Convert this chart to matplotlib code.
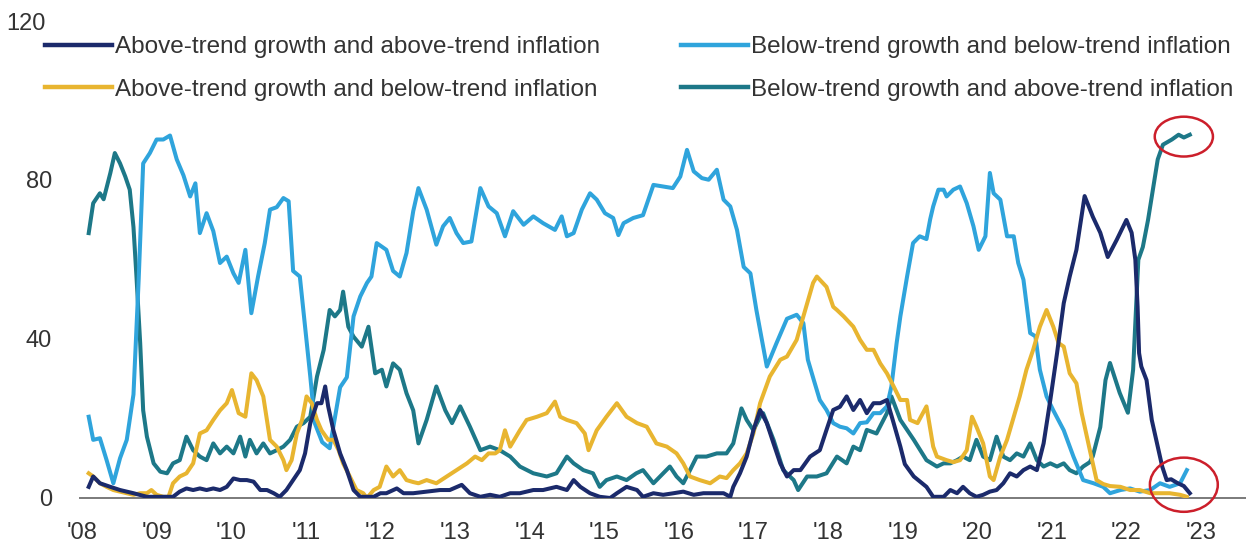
import matplotlib
matplotlib.use("Agg")
import matplotlib.pyplot as plt
from matplotlib.patches import Ellipse

# ---------------- data ----------------
series_labels = [
    "Above-trend growth and above-trend inflation",
    "Above-trend growth and below-trend inflation",
    "Below-trend growth and below-trend inflation",
    "Below-trend growth and above-trend inflation",
]
year_ticks = list(range(2008, 2024))
year_tick_labels = ["'%02d" % (y % 100) for y in year_ticks]
value_ticks = [0, 40, 80]

# Below-trend growth & below-trend inflation (light blue)
bb_x = [2008.09, 2008.15, 2008.24, 2008.33, 2008.42, 2008.51, 2008.60, 2008.69, 2008.76, 2008.82,
        2008.91, 2009.00, 2009.09, 2009.18, 2009.27, 2009.36, 2009.45, 2009.52, 2009.58, 2009.67,
        2009.76, 2009.85, 2009.94, 2010.03, 2010.10, 2010.19, 2010.27, 2010.36, 2010.45, 2010.52,
        2010.61, 2010.70, 2010.77, 2010.83, 2010.92, 2010.99, 2011.06, 2011.12, 2011.22, 2011.32,
        2011.46, 2011.55, 2011.64, 2011.73, 2011.82, 2011.88, 2011.95, 2012.08, 2012.17, 2012.26,
        2012.35, 2012.44, 2012.51, 2012.62, 2012.75, 2012.84, 2012.93, 2013.02, 2013.11, 2013.22,
        2013.34, 2013.45, 2013.56, 2013.67, 2013.78, 2013.92, 2014.05, 2014.18, 2014.34, 2014.43,
        2014.50, 2014.59, 2014.70, 2014.81, 2014.90, 2015.01, 2015.12, 2015.19, 2015.26, 2015.39,
        2015.52, 2015.66, 2015.79, 2015.92, 2016.02, 2016.11, 2016.20, 2016.31, 2016.40, 2016.51,
        2016.60, 2016.69, 2016.78, 2016.87, 2016.96, 2017.04, 2017.18, 2017.31, 2017.45, 2017.58,
        2017.67, 2017.73, 2017.81, 2017.89, 2017.98, 2018.07, 2018.16, 2018.25, 2018.34, 2018.43,
        2018.52, 2018.61, 2018.70, 2018.79, 2018.85, 2018.92, 2018.97, 2019.06, 2019.14, 2019.23,
        2019.32, 2019.37, 2019.41, 2019.48, 2019.55, 2019.59, 2019.68, 2019.77, 2019.86, 2019.95,
        2020.02, 2020.11, 2020.17, 2020.22, 2020.31, 2020.40, 2020.49, 2020.55, 2020.62, 2020.71,
        2020.78, 2020.84, 2020.93, 2021.02, 2021.16, 2021.29, 2021.42, 2021.56, 2021.69, 2021.78,
        2021.92, 2022.05, 2022.18, 2022.32, 2022.45, 2022.58, 2022.72, 2022.81]
bb_y = [20.4, 14.6, 15.0, 9.5, 3.7, 10.0, 14.6, 26.0, 55.0, 84.0,
        86.6, 90.0, 90.0, 91.0, 85.0, 81.0, 75.7, 79.0, 66.5, 71.5,
        67.0, 59.0, 60.6, 56.4, 54.0, 62.3, 46.4, 55.6, 64.0, 72.4,
        73.0, 75.3, 74.5, 57.0, 55.6, 43.0, 30.5, 18.8, 14.0, 12.5,
        27.8, 30.3, 45.6, 50.6, 54.0, 55.6, 64.0, 62.3, 57.0, 55.6,
        61.5, 72.0, 77.8, 72.4, 63.6, 68.2, 70.3, 66.5, 64.0, 64.4,
        77.8, 73.2, 71.5, 65.7, 72.0, 68.6, 70.7, 69.0, 67.3, 70.7,
        65.7, 66.5, 72.4, 76.5, 74.9, 71.5, 70.3, 66.0, 69.0, 70.3,
        71.0, 78.6, 78.2, 77.8, 80.7, 87.4, 82.0, 80.3, 79.9, 82.4,
        74.9, 73.2, 67.3, 58.0, 56.4, 47.2, 33.0, 38.9, 45.0, 46.0,
        43.9, 34.7, 29.6, 24.6, 22.1, 18.8, 17.9, 17.5, 16.2, 18.8,
        19.0, 21.3, 21.3, 23.0, 28.0, 38.9, 45.6, 55.6, 64.0, 65.7,
        65.0, 70.0, 73.2, 77.4, 77.4, 75.7, 77.4, 78.2, 74.0, 68.2,
        62.3, 65.7, 81.6, 76.5, 74.9, 65.7, 65.7, 59.0, 54.8, 41.4,
        40.6, 32.2, 25.5, 22.0, 17.0, 10.4, 4.5, 3.7, 2.8, 1.2,
        2.0, 2.4, 1.6, 2.0, 3.7, 2.8, 3.7, 7.0]

# Below-trend growth & above-trend inflation (teal)
ba_x = [2008.09, 2008.15, 2008.24, 2008.29, 2008.38, 2008.44, 2008.51, 2008.58, 2008.64, 2008.69,
        2008.73, 2008.78, 2008.82, 2008.87, 2008.96, 2009.05, 2009.14, 2009.22, 2009.31, 2009.40,
        2009.49, 2009.58, 2009.67, 2009.76, 2009.85, 2009.94, 2010.03, 2010.12, 2010.19, 2010.25,
        2010.34, 2010.43, 2010.52, 2010.61, 2010.70, 2010.79, 2010.88, 2010.97, 2011.06, 2011.15,
        2011.24, 2011.32, 2011.39, 2011.46, 2011.50, 2011.57, 2011.64, 2011.75, 2011.84, 2011.93,
        2012.02, 2012.08, 2012.17, 2012.26, 2012.35, 2012.44, 2012.51, 2012.62, 2012.75, 2012.87,
        2012.96, 2013.07, 2013.20, 2013.34, 2013.47, 2013.60, 2013.74, 2013.87, 2014.05, 2014.23,
        2014.36, 2014.50, 2014.59, 2014.72, 2014.85, 2014.94, 2015.03, 2015.17, 2015.30, 2015.43,
        2015.52, 2015.66, 2015.79, 2015.88, 2015.97, 2016.06, 2016.15, 2016.24, 2016.37, 2016.51,
        2016.64, 2016.73, 2016.84, 2016.91, 2017.00, 2017.09, 2017.13, 2017.27, 2017.40, 2017.54,
        2017.60, 2017.72, 2017.85, 2017.98, 2018.12, 2018.25, 2018.34, 2018.43, 2018.52, 2018.65,
        2018.79, 2018.85, 2018.97, 2019.15, 2019.32, 2019.46, 2019.55, 2019.64, 2019.73, 2019.81,
        2019.90, 2019.99, 2020.08, 2020.17, 2020.26, 2020.35, 2020.44, 2020.53, 2020.62, 2020.71,
        2020.80, 2020.89, 2020.98, 2021.07, 2021.16, 2021.24, 2021.33, 2021.42, 2021.51, 2021.55,
        2021.65, 2021.72, 2021.78, 2021.91, 2022.02, 2022.09, 2022.16, 2022.22, 2022.29, 2022.36,
        2022.42, 2022.49, 2022.61, 2022.70, 2022.77, 2022.85]
ba_y = [66.5, 74.0, 76.5, 75.0, 81.6, 86.6, 84.0, 80.7, 77.4, 68.0,
        55.6, 38.9, 22.0, 15.4, 8.7, 6.6, 6.2, 8.7, 9.5, 15.4,
        12.0, 10.4, 9.5, 13.7, 11.2, 12.9, 11.2, 15.4, 10.4, 14.6,
        11.2, 13.7, 11.2, 12.0, 12.9, 14.6, 17.9, 18.8, 20.4, 30.5,
        37.2, 47.2, 45.6, 47.2, 51.8, 43.0, 40.5, 38.0, 43.0, 31.3,
        32.2, 28.0, 33.8, 32.2, 26.3, 22.0, 13.7, 19.6, 28.0, 22.0,
        18.8, 23.0, 17.9, 12.0, 12.9, 12.0, 10.4, 7.9, 6.2, 5.4,
        6.2, 10.4, 8.7, 7.0, 6.2, 2.8, 4.5, 5.4, 4.5, 6.2,
        7.0, 3.7, 6.2, 7.9, 5.4, 3.7, 7.0, 10.4, 10.4, 11.2,
        11.2, 13.7, 22.5, 19.6, 17.0, 20.4, 21.3, 14.6, 7.0, 4.5,
        2.0, 5.4, 5.4, 6.2, 10.4, 8.7, 12.9, 12.0, 17.1, 16.2,
        21.3, 25.5, 19.6, 14.6, 9.5, 7.9, 8.7, 8.7, 9.5, 10.4,
        9.5, 14.6, 10.4, 9.5, 15.4, 10.4, 9.5, 11.2, 10.4, 13.7,
        9.5, 7.9, 8.7, 7.9, 8.7, 7.0, 6.2, 7.9, 9.0, 10.5,
        17.8, 29.6, 33.9, 26.4, 21.4, 32.2, 59.8, 63.0, 69.8, 78.0,
        85.0, 88.7, 90.0, 91.2, 90.5, 91.2]

# Above-trend growth & below-trend inflation (gold)
ab_x = [2008.09, 2008.15, 2008.24, 2008.33, 2008.42, 2008.51, 2008.60, 2008.69, 2008.78, 2008.87,
        2008.93, 2009.00, 2009.09, 2009.16, 2009.22, 2009.31, 2009.40, 2009.49, 2009.58, 2009.67,
        2009.76, 2009.85, 2009.94, 2010.01, 2010.10, 2010.19, 2010.27, 2010.34, 2010.43, 2010.52,
        2010.61, 2010.70, 2010.74, 2010.81, 2010.88, 2010.95, 2011.01, 2011.08, 2011.15, 2011.21,
        2011.30, 2011.37, 2011.44, 2011.50, 2011.59, 2011.68, 2011.77, 2011.82, 2011.91, 2011.99,
        2012.08, 2012.17, 2012.26, 2012.35, 2012.44, 2012.51, 2012.62, 2012.75, 2012.89, 2013.02,
        2013.16, 2013.27, 2013.36, 2013.45, 2013.54, 2013.60, 2013.67, 2013.74, 2013.87, 2013.96,
        2014.10, 2014.23, 2014.34, 2014.41, 2014.50, 2014.63, 2014.74, 2014.79, 2014.90, 2015.03,
        2015.17, 2015.30, 2015.44, 2015.57, 2015.70, 2015.84, 2015.97, 2016.06, 2016.15, 2016.28,
        2016.42, 2016.55, 2016.64, 2016.73, 2016.82, 2016.91, 2017.00, 2017.09, 2017.22, 2017.36,
        2017.45, 2017.58, 2017.67, 2017.80, 2017.85, 2017.89, 2017.98, 2018.07, 2018.12, 2018.21,
        2018.34, 2018.43, 2018.52, 2018.61, 2018.70, 2018.79, 2018.88, 2018.97, 2019.06, 2019.10,
        2019.20, 2019.32, 2019.41, 2019.46, 2019.59, 2019.68, 2019.77, 2019.86, 2019.93, 2019.99,
        2020.08, 2020.17, 2020.22, 2020.31, 2020.40, 2020.49, 2020.57, 2020.66, 2020.75, 2020.84,
        2020.93, 2021.02, 2021.09, 2021.16, 2021.24, 2021.33, 2021.40, 2021.51, 2021.60, 2021.69,
        2021.78, 2021.92, 2022.05, 2022.18, 2022.32, 2022.45, 2022.58, 2022.72, 2022.81]
ab_y = [6.2, 5.4, 3.7, 2.8, 2.0, 1.6, 1.2, 0.8, 1.2, 1.2,
        2.0, 0.8, 0.3, 0.3, 3.7, 5.4, 6.2, 8.7, 16.2, 17.0,
        19.6, 22.0, 23.8, 27.1, 21.3, 20.4, 31.3, 29.6, 25.5, 14.6,
        12.9, 9.5, 7.0, 9.5, 16.2, 19.6, 25.5, 23.8, 19.6, 17.0,
        14.6, 14.6, 12.0, 8.7, 5.4, 2.0, 1.2, 0.0, 2.0, 2.8,
        7.9, 5.4, 7.0, 4.5, 4.0, 3.7, 4.5, 3.7, 5.4, 7.0,
        8.7, 10.4, 9.5, 11.2, 11.2, 12.0, 17.0, 12.9, 17.0, 19.6,
        20.4, 21.3, 24.2, 20.4, 19.6, 18.8, 16.2, 12.0, 17.0, 20.4,
        23.8, 20.4, 18.8, 17.9, 13.7, 12.9, 11.2, 8.7, 5.4, 4.5,
        3.7, 5.4, 5.0, 7.0, 8.7, 11.2, 16.2, 23.8, 30.5, 34.7,
        35.5, 39.7, 45.6, 54.0, 55.6, 54.8, 53.0, 48.0, 47.2, 45.6,
        43.0, 39.7, 37.2, 37.2, 33.8, 31.3, 28.0, 24.6, 24.6, 19.6,
        18.8, 23.0, 12.9, 10.4, 9.5, 9.0, 9.5, 12.0, 20.4, 17.9,
        13.7, 5.4, 4.5, 10.4, 14.6, 20.4, 25.5, 32.2, 37.2, 43.0,
        47.2, 43.0, 38.9, 38.0, 31.3, 28.8, 21.4, 12.0, 4.5, 3.5,
        3.0, 2.8, 2.0, 2.0, 1.2, 1.2, 1.2, 0.8, 0.3]

# Above-trend growth & above-trend inflation (navy)
aa_x = [2008.09, 2008.15, 2008.24, 2008.38, 2008.51, 2008.69, 2008.87, 2009.05, 2009.22, 2009.31,
        2009.40, 2009.49, 2009.58, 2009.67, 2009.76, 2009.85, 2009.94, 2010.03, 2010.12, 2010.21,
        2010.30, 2010.39, 2010.48, 2010.57, 2010.65, 2010.74, 2010.83, 2010.92, 2010.99, 2011.06,
        2011.15, 2011.21, 2011.26, 2011.30, 2011.37, 2011.46, 2011.55, 2011.64, 2011.73, 2011.82,
        2011.91, 2012.00, 2012.08, 2012.22, 2012.31, 2012.44, 2012.62, 2012.80, 2012.93, 2013.09,
        2013.20, 2013.34, 2013.47, 2013.60, 2013.74, 2013.87, 2014.05, 2014.18, 2014.36, 2014.50,
        2014.59, 2014.68, 2014.81, 2014.94, 2015.08, 2015.17, 2015.30, 2015.44, 2015.52, 2015.66,
        2015.79, 2015.93, 2016.06, 2016.20, 2016.33, 2016.46, 2016.60, 2016.69, 2016.73, 2016.82,
        2016.91, 2017.00, 2017.09, 2017.18, 2017.27, 2017.36, 2017.45, 2017.54, 2017.63, 2017.76,
        2017.89, 2017.98, 2018.07, 2018.16, 2018.25, 2018.34, 2018.43, 2018.52, 2018.61, 2018.70,
        2018.79, 2018.88, 2018.97, 2019.03, 2019.15, 2019.32, 2019.41, 2019.55, 2019.64, 2019.73,
        2019.81, 2019.90, 2019.99, 2020.08, 2020.17, 2020.26, 2020.35, 2020.44, 2020.53, 2020.62,
        2020.71, 2020.80, 2020.89, 2020.98, 2021.07, 2021.16, 2021.24, 2021.33, 2021.44, 2021.55,
        2021.65, 2021.75, 2021.87, 2022.00, 2022.07, 2022.12, 2022.15, 2022.17, 2022.20, 2022.27,
        2022.34, 2022.40, 2022.48, 2022.54, 2022.60, 2022.68, 2022.77, 2022.85]
aa_y = [2.8, 5.4, 3.7, 2.8, 2.0, 1.2, 0.3, 0.3, 0.3, 1.6,
        2.4, 2.0, 2.4, 2.0, 2.4, 2.0, 2.8, 4.9, 4.5, 4.5,
        4.1, 2.0, 2.0, 1.2, 0.3, 2.0, 4.5, 7.0, 11.2, 18.8,
        23.8, 23.8, 28.0, 23.0, 17.0, 11.2, 7.0, 2.0, 0.3, 0.3,
        0.3, 1.2, 1.2, 2.4, 1.2, 1.2, 1.6, 2.0, 2.0, 3.3,
        1.2, 0.3, 0.8, 0.3, 1.2, 1.2, 2.0, 2.0, 2.8, 2.0,
        4.5, 2.8, 1.2, 0.3, 0.0, 1.2, 2.8, 2.0, 0.3, 1.2,
        0.8, 1.2, 1.6, 0.8, 1.2, 1.2, 1.2, 0.3, 2.8, 6.2,
        10.4, 17.0, 22.1, 18.8, 13.7, 8.7, 5.4, 7.0, 7.0, 10.4,
        12.0, 17.1, 22.1, 22.9, 25.5, 22.1, 24.6, 21.3, 23.8, 23.8,
        24.6, 18.8, 12.9, 8.5, 5.4, 2.8, 0.3, 0.3, 2.0, 1.2,
        2.8, 1.2, 0.3, 0.8, 1.6, 2.0, 3.7, 6.2, 5.4, 7.0,
        7.9, 7.0, 13.7, 24.6, 36.3, 48.9, 55.6, 62.3, 75.8, 70.6,
        66.6, 60.5, 64.8, 69.8, 66.6, 59.8, 48.0, 36.4, 33.0, 29.6,
        19.6, 14.6, 7.9, 4.5, 4.7, 3.8, 3.0, 1.2]

# ---------------- style ----------------
plt.rcParams["font.family"] = ["Liberation Sans", "DejaVu Sans"]

c_aa = "#1b2a6b"
c_ab = "#e8b530"
c_bb = "#2fa4dc"
c_ba = "#1d7888"
text_c = "#333333"
lw = 2.9

W, H = 1246, 549
fig = plt.figure(figsize=(W / 100, H / 100), dpi=100)
ax = fig.add_axes([80 / W, 51 / H, 1166 / W, 478 / H])

l_bb, = ax.plot(bb_x, bb_y, color=c_bb, lw=lw, solid_joinstyle="round", zorder=3)
l_ba, = ax.plot(ba_x, ba_y, color=c_ba, lw=lw, solid_joinstyle="round", zorder=2)
l_ab, = ax.plot(ab_x, ab_y, color=c_ab, lw=lw, solid_joinstyle="round", zorder=4)
l_aa, = ax.plot(aa_x, aa_y, color=c_aa, lw=lw, solid_joinstyle="round", zorder=5)

ax.set_xlim(2008 - 2 / 74.6, 2008 + 1164 / 74.6)
ax.set_ylim(0, 120)

ax.set_xticks(year_ticks)
ax.set_xticklabels(year_tick_labels)
ax.set_yticks(value_ticks)
ax.set_yticklabels([str(v) for v in value_ticks])
ax.tick_params(axis="both", length=0, labelsize=17, colors=text_c)
ax.tick_params(axis="x", pad=17)
ax.tick_params(axis="y", pad=20)
ax.text(-34 / 1166, 119, "120", transform=ax.get_yaxis_transform(),
        ha="right", va="center", fontsize=17, color=text_c)

for s in ("top", "right", "left"):
    ax.spines[s].set_visible(False)
ax.spines["bottom"].set_color("#7a7a7a")
ax.spines["bottom"].set_linewidth(1.4)
ax.spines["bottom"].set_zorder(1)

# red highlight ellipses around the latest readings
end_x = ba_x[-1] - 0.08
top_y = sum(ba_y[-4:]) / 4
bot_y = (aa_y[-1] + ab_y[-1] + bb_y[-1]) / 3 + 0.5
ax.add_patch(Ellipse((end_x, top_y), 0.78, 10.0, fill=False, ec="#cc1f2b", lw=1.8,
                     clip_on=False, zorder=6))
ax.add_patch(Ellipse((end_x, bot_y), 0.91, 13.6, fill=False, ec="#cc1f2b", lw=1.8,
                     clip_on=False, zorder=6))

leg = fig.legend([l_aa, l_ab, l_bb, l_ba], series_labels, ncol=2, loc="upper left",
                 bbox_to_anchor=(45 / W, 1 - 36 / H), frameon=False, fontsize=17.5,
                 handlelength=2.76, handletextpad=0.14, columnspacing=3.3,
                 labelspacing=0.86, borderpad=0, borderaxespad=0)
for t in leg.get_texts():
    t.set_color(text_c)
for h in leg.legend_handles:
    h.set_linewidth(3.2)

fig.savefig("out.png", dpi=100)
